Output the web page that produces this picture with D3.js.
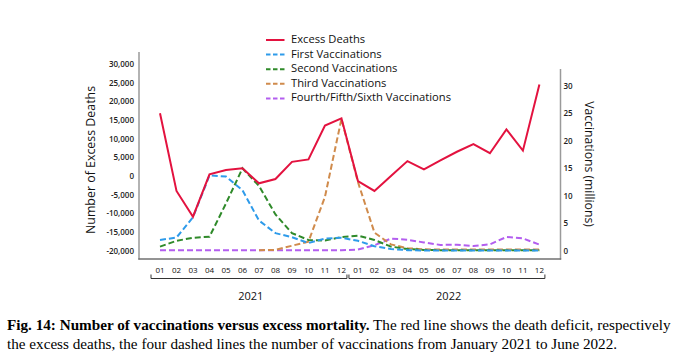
<!DOCTYPE html>
<html>
<head>
<meta charset="utf-8">
<script src="https://cdn.jsdelivr.net/npm/d3@7/dist/d3.min.js"></script>
<style>
  html, body { margin: 0; padding: 0; background: #fff; }
  svg { display: block; }
</style>
</head>
<body>
<svg id="chart" width="677" height="359"></svg>
<script>
// ---------------- data ----------------
const months = ["01","02","03","04","05","06","07","08","09","10","11","12",
                "01","02","03","04","05","06","07","08","09","10","11","12"];
const years = ["2021", "2022"];
const excessDeaths = [16800, -4000, -10900, 450, 1600, 2050, -1950, -800, 3800, 4450, 13500, 15450,
                      -1350, -4000, 0, 4000, 1800, 4200, 6500, 8550, 6100, 12500, 6800, 24500];
const firstVacc  = [1.95, 2.4, 6.1, 13.7, 13.5, 11.0, 5.5, 3.2, 2.45, 1.4, 2.2, 2.35,
                    1.8, 0.8, 0.3, 0.1, 0.05, 0.05, 0.05, 0.05, 0.05, 0.05, 0.05, 0.05];
const secondVacc = [0.75, 1.8, 2.35, 2.55, 8.6, 15.0, 11.8, 6.6, 3.2, 1.95, 1.85, 2.5,
                    2.75, 1.95, 0.75, 0.3, 0.15, 0.1, 0.1, 0.1, 0.1, 0.1, 0.1, 0.1];
const thirdVacc  = [null, null, null, null, null, null, 0.1, 0.15, 0.9, 1.65, 9.8, 24.0,
                    12.5, 3.3, 1.15, 0.45, 0.25, 0.2, 0.2, 0.2, 0.2, 0.2, 0.2, 0.2];
const fourthVacc = [0.1, 0.1, 0.1, 0.1, 0.1, 0.1, 0.1, 0.1, 0.1, 0.1, 0.1, 0.1,
                    0.2, 1.0, 2.2, 2.0, 1.5, 1.05, 1.1, 0.85, 1.15, 2.5, 2.25, 1.1];
const leftTicks  = [-20000, -15000, -10000, -5000, 0, 5000, 10000, 15000, 20000, 25000, 30000];
const rightTicks = [0, 5, 10, 15, 20, 25, 30];
const seriesNames = ["Excess Deaths", "First Vaccinations", "Second Vaccinations",
                     "Third Vaccinations", "Fourth/Fifth/Sixth Vaccinations"];
const seriesColors = ["#e3123f", "#2e9bea", "#2f8a2a", "#d08b4c", "#b35eef"];

// ---------------- layout ----------------
const svg = d3.select("#chart");
const uiFont = "'Open Sans', 'Noto Sans', sans-serif";

const idx = d3.range(months.length);
const x = d3.scalePoint().domain(idx).range([160, 539.4]);
const yL = d3.scaleLinear().domain([-20000, 30000]).range([250.7, 64]);
const yR = d3.scaleLinear().domain([0, 34]).range([250.7, 64]);

const axisColor = "#9a9a9a";

// axis lines
svg.append("line").attr("x1", 139).attr("x2", 139).attr("y1", 52).attr("y2", 259.5)
  .attr("stroke", axisColor).attr("stroke-width", 1.5);
svg.append("line").attr("x1", 560.5).attr("x2", 560.5).attr("y1", 69).attr("y2", 259.5)
  .attr("stroke", axisColor).attr("stroke-width", 1.5);
svg.append("line").attr("x1", 138.3).attr("x2", 561.2).attr("y1", 259).attr("y2", 259)
  .attr("stroke", "#707070").attr("stroke-width", 1.5);

const fmtL = v => (v < 0 ? "-" : "") + d3.format(",")(Math.abs(v));

const gL = svg.append("g").attr("transform", "translate(139,0)")
  .call(d3.axisLeft(yL).tickValues(leftTicks).tickFormat(fmtL).tickSize(0).tickPadding(5));
gL.select(".domain").remove();
gL.selectAll("text").attr("font-family", uiFont).attr("font-size", 8).attr("font-weight", 600).attr("fill", "#222");

const gR = svg.append("g").attr("transform", "translate(560.5,0)")
  .call(d3.axisRight(yR).tickValues(rightTicks).tickSize(0).tickPadding(3));
gR.select(".domain").remove();
gR.selectAll("text").attr("font-family", uiFont).attr("font-size", 8).attr("font-weight", 600).attr("fill", "#222");

// axis titles
svg.append("text").attr("transform", "translate(92,160) rotate(-90)")
  .attr("text-anchor", "middle").attr("dominant-baseline", "middle")
  .attr("font-family", uiFont).attr("font-size", 12.4).attr("font-weight", 500).attr("fill", "#111")
  .text("Number of Excess Deaths");
svg.append("text").attr("transform", "translate(588,164) rotate(90)")
  .attr("text-anchor", "middle").attr("dominant-baseline", "middle")
  .attr("font-family", uiFont).attr("font-size", 12.2).attr("font-weight", 500).attr("fill", "#111")
  .text("Vaccinations (millions)");

// month labels
svg.append("g").selectAll("text").data(idx).join("text")
  .attr("x", d => x(d)).attr("y", 270.5).attr("text-anchor", "middle").attr("dominant-baseline", "middle")
  .attr("font-family", uiFont).attr("font-size", 8).attr("fill", "#111")
  .text(d => months[d]);

// year brackets
years.forEach((yr, i) => {
  const x0 = x(i * 12) - 9, x1 = x(i * 12 + 11) + 5.5;
  svg.append("path")
    .attr("d", `M${x0},274.5V278.5H${x1}V274.5`)
    .attr("fill", "none").attr("stroke", "#333").attr("stroke-width", 1);
  svg.append("text").attr("x", (x(i * 12) + x(i * 12 + 11)) / 2).attr("y", 297)
    .attr("text-anchor", "middle").attr("dominant-baseline", "middle")
    .attr("font-family", uiFont).attr("font-size", 11).attr("fill", "#111")
    .text(yr);
});

// lines
const mkLine = (scale) => d3.line()
  .defined(d => d[1] !== null)
  .x(d => x(d[0])).y(d => scale(d[1]));

const vaccSeries = [
  { vals: fourthVacc, color: seriesColors[4] },
  { vals: thirdVacc,  color: seriesColors[3] },
  { vals: secondVacc, color: seriesColors[2] },
  { vals: firstVacc,  color: seriesColors[1] }
];
vaccSeries.forEach(s => {
  svg.append("path")
    .attr("d", mkLine(yR)(idx.map(i => [i, s.vals[i]])))
    .attr("fill", "none").attr("stroke", s.color).attr("stroke-width", 2)
    .attr("stroke-dasharray", "6,3");
});
svg.append("path")
  .attr("d", mkLine(yL)(idx.map(i => [i, excessDeaths[i]])))
  .attr("fill", "none").attr("stroke", seriesColors[0]).attr("stroke-width", 2)
  .attr("stroke-linejoin", "miter");

// legend
const legY = [40, 54.6, 69.2, 83.8, 98.4];
seriesNames.forEach((name, i) => {
  svg.append("line").attr("x1", 266).attr("x2", 284.5).attr("y1", legY[i]).attr("y2", legY[i])
    .attr("stroke", seriesColors[i]).attr("stroke-width", 2)
    .attr("stroke-dasharray", i === 0 ? null : "4.5,2.5");
  svg.append("text").attr("x", 291).attr("y", legY[i]).attr("dominant-baseline", "middle")
    .attr("font-family", uiFont).attr("font-size", 11.2).attr("font-weight", 500).attr("fill", "#111")
    .text(name);
});

// caption
const cap = svg.append("g").attr("font-family", "'Liberation Serif', 'Times New Roman', serif").attr("fill", "#000");
const l1 = cap.append("text").attr("x", 7).attr("y", 330).attr("font-size", 13);
l1.append("tspan").attr("font-weight", "bold").text("Fig. 14: Number of vaccinations versus excess mortality.");
l1.append("tspan").text(" The red line shows the death deficit, respectively");
const l2 = cap.append("text").attr("x", 7).attr("y", 349).attr("font-size", 13)
  .text("the excess deaths, the four dashed lines the number of vaccinations from January 2021 to June 2022.");
// fit caption width to reference (line 1 spans ~x=7..671)
const w1 = l1.node().getComputedTextLength();
const fs = 13 * 664 / w1;
l1.attr("font-size", fs);
l2.attr("font-size", fs);
</script>
</body>
</html>
